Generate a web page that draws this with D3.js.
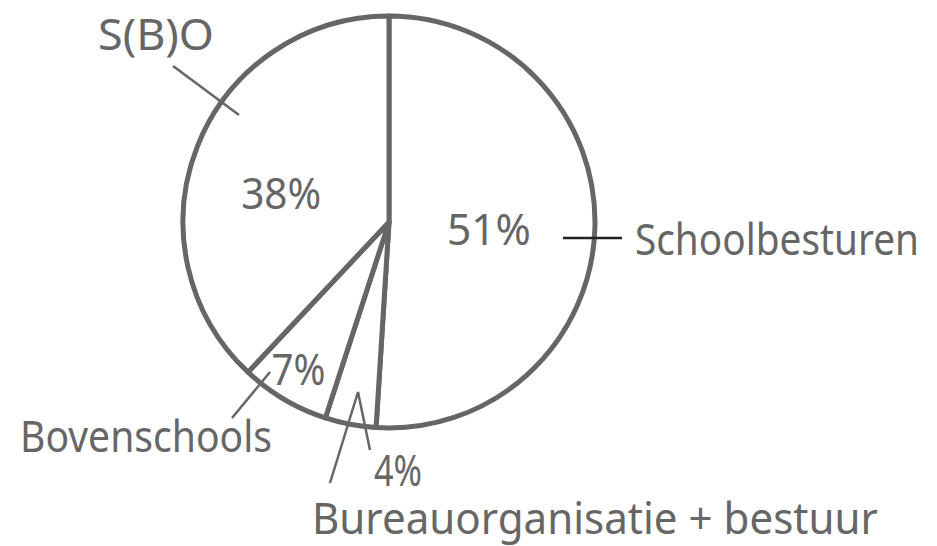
<!DOCTYPE html>
<html>
<head>
<meta charset="utf-8">
<script src="https://cdn.jsdelivr.net/npm/d3@7"></script>
<style>
  body { margin: 0; background: #fff; }
  text { font-family: "Noto Sans", "DejaVu Sans", sans-serif; fill: #666; }
</style>
</head>
<body>
<script>
// Chart data
const categories = ["Schoolbesturen", "Bureauorganisatie + bestuur", "Bovenschools", "S(B)O"];
const values = [51, 4, 7, 38];
const pctLabels = values.map(v => v + "%");

const width = 937, height = 546;
const cx = 389, cy = 222, radius = 206;

const svg = d3.select("body")
    .append("svg")
    .attr("width", width)
    .attr("height", height);

const g = svg.append("g").attr("transform", `translate(${cx},${cy})`);

const pie = d3.pie().sort(null).value(d => d);
const arcs = pie(values);
const arc = d3.arc().innerRadius(0).outerRadius(radius);

// Slices
g.selectAll(".slice")
    .data(arcs)
    .enter()
    .append("path")
    .attr("class", "slice")
    .attr("d", arc)
    .attr("fill", "#fff")
    .attr("stroke", "#666")
    .attr("stroke-width", 5)
    .attr("stroke-linejoin", "round");

// squeeze a text horizontally so it spans `w` px (left edge at x, or centred)
function fitText(sel, x, y, w, anchor) {
    sel.each(function(d, i) {
        const t = d3.select(this);
        const natural = this.getComputedTextLength();
        const k = w(d, i) / natural;
        const x0 = anchor === "middle" ? x(d, i) - w(d, i) / 2 : x(d, i);
        t.attr("transform", `translate(${x0},${y(d, i)}) scale(${k},1)`);
    });
}

// Percentage labels: placed along each slice's mid angle at a given distance
const pctRadius = [100, null, 178, 116];
const pctDy = [20, 0, 10, 30];
const pctBox = [84, 48, 54, 80]; // text widths in px
const pctPos = arcs.map((a, i) => {
    if (pctRadius[i] === null) return [9, 264]; // 4% sits outside the pie
    const m = (a.startAngle + a.endAngle) / 2;
    return [Math.sin(m) * pctRadius[i], -Math.cos(m) * pctRadius[i] + pctDy[i]];
});

g.selectAll(".pct")
    .data(arcs)
    .enter()
    .append("text")
    .attr("class", "pct")
    .attr("font-size", 44)
    .text((d, i) => pctLabels[i])
    .call(fitText, (d, i) => pctPos[i][0], (d, i) => pctPos[i][1], (d, i) => pctBox[i], "middle");

// Category labels with their leader lines
const catPos = [[635, 255, 284], [312, 534, 566], [20, 452, 252], [98, 50, 116]];
svg.selectAll(".cat")
    .data(categories)
    .enter()
    .append("text")
    .attr("class", "cat")
    .attr("font-size", 44)
    .text(d => d)
    .call(fitText, (d, i) => catPos[i][0], (d, i) => catPos[i][1], (d, i) => catPos[i][2], "start");

const leaders = [
    [[563, 238], [622, 238]],
    [[330, 483], [358, 392], [370, 450]],
    [[232, 418], [270, 372]],
    [[173, 66], [239, 115]]
];
const line = d3.line();
svg.selectAll(".leader")
    .data(leaders)
    .enter()
    .append("path")
    .attr("class", "leader")
    .attr("d", line)
    .attr("fill", "none")
    .attr("stroke", (d, i) => i === 0 ? "#222" : "#666")
    .attr("stroke-width", 2.5);
</script>
</body>
</html>
